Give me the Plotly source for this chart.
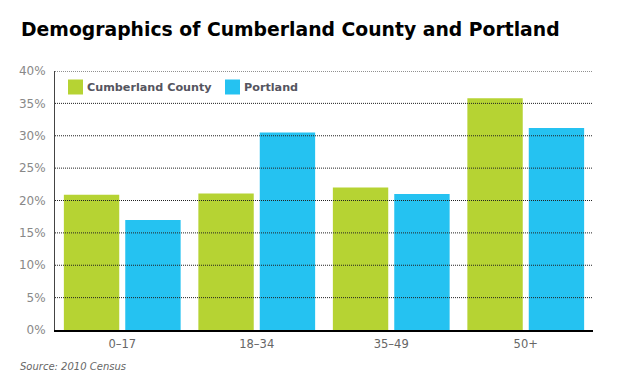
import plotly.graph_objects as go

categories = ["0–17", "18–34", "35–49", "50+"]
cumberland = [20.9, 21.1, 22.0, 35.8]
portland = [17.0, 30.5, 21.0, 31.2]
series_names = ["Cumberland County", "Portland"]
y_ticks = [0, 5, 10, 15, 20, 25, 30, 35, 40]
y_tick_labels = [f"{v}%" for v in y_ticks]

GREEN = "#B6D333"
BLUE = "#25C2F1"

W, H = 624, 390
L, R, T, B = 55, 31, 71, 60
PW, PH = W - L - R, H - T - B


def px(x):
    return (x - L) / PW


def py(y):
    return (H - B - y) / PH


fig = go.Figure()
fig.add_trace(go.Bar(x=categories, y=cumberland, name=series_names[0],
                     marker=dict(color=GREEN, line=dict(width=0)), showlegend=False))
fig.add_trace(go.Bar(x=categories, y=portland, name=series_names[1],
                     marker=dict(color=BLUE, line=dict(width=0)), showlegend=False))

shapes = []
for v in y_ticks[1:]:
    shapes.append(dict(type="line", xref="paper", yref="y", x0=0, x1=1, y0=v, y1=v,
                       line=dict(color="#222", width=1, dash="1px,1px"), layer="above"))

# legend (manual, inside plot, top-left)
legend_items = [(series_names[0], GREEN, 68), (series_names[1], BLUE, 225)]
annotations = []
for name, col, x0 in legend_items:
    shapes.append(dict(type="rect", xref="paper", yref="paper",
                       x0=px(x0), x1=px(x0 + 15), y0=py(94.5), y1=py(79.5),
                       fillcolor=col, line=dict(width=0), layer="above"))
    annotations.append(dict(text=f"<b>{name}</b>", xref="paper", yref="paper",
                            x=px(x0 + 17), y=py(87), xanchor="left", yanchor="middle",
                            showarrow=False,
                            font=dict(family="DejaVu Sans", size=11.2, color="#555560")))

annotations.append(dict(text="<b>Demographics of Cumberland County and Portland</b>",
                        xref="paper", yref="paper", x=px(19), y=py(29),
                        xanchor="left", yanchor="middle", showarrow=False,
                        font=dict(family="DejaVu Sans", size=18.8, color="#000")))
annotations.append(dict(text="<i>Source: 2010 Census</i>", xref="paper", yref="paper",
                        x=px(18), y=py(366), xanchor="left", yanchor="middle",
                        showarrow=False,
                        font=dict(family="DejaVu Sans", size=10, color="#666")))

fig.update_layout(
    width=W, height=H,
    margin=dict(l=L, r=R, t=T, b=B),
    paper_bgcolor="white", plot_bgcolor="white",
    barmode="group", bargap=0.087, bargroupgap=0.098,
    font=dict(family="DejaVu Sans", color="#666"),
    showlegend=False,
    xaxis=dict(showgrid=False, showline=True, linecolor="#000", linewidth=2,
               ticks="", tickfont=dict(size=11.5, color="#666"), automargin=False,
               ticklabelstandoff=2),
    yaxis=dict(range=[0, 40], tickvals=y_ticks, ticktext=y_tick_labels,
               showgrid=False, zeroline=False, showline=True, linecolor="#444",
               linewidth=1, ticks="", tickfont=dict(size=12, color="#888"),
               ticklabelstandoff=6, automargin=False),
    shapes=shapes,
    annotations=annotations,
)

fig.write_html("out.html", config={"displayModeBar": False},
               post_script="document.body.style.margin='0';document.body.style.padding='0';")
